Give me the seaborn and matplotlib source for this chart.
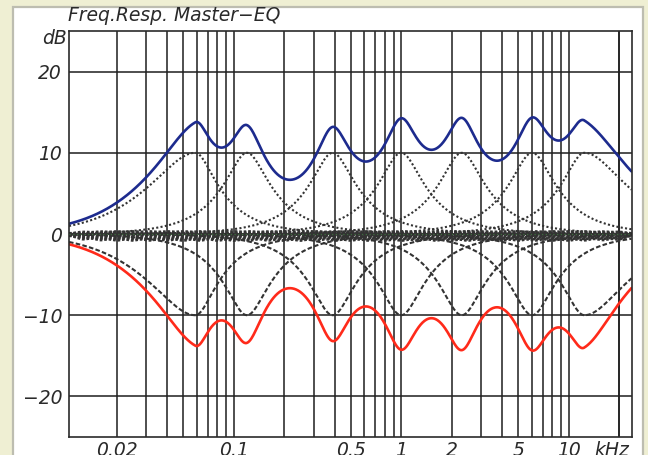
import numpy as np
import pandas as pd
import matplotlib
matplotlib.use("Agg")
import matplotlib.pyplot as plt
from matplotlib.patches import Rectangle
import seaborn as sns

# single EQ bands (dotted): centre kHz, gain dB, Q below / above centre
band_freq = [0.059, 0.12, 0.39, 1.0, 2.3, 6.05, 12.4]
band_gain = [10, 10, 10, 10, 10, 10, 10]
band_q_low = [0.6, 1.2, 1.2, 1.2, 1.2, 1.2, 1.2]
band_q_high = [1.25, 1.2, 1.2, 1.2, 1.2, 1.2, 0.65]

# settings that give the summed response (blue = all up, red = all down)
total_gain = [11.7, 10.4, 10.8, 11.0, 11.0, 10.6, 11.6]
total_q_low = [0.6, 1.5, 1.4, 1.4, 1.4, 1.4, 1.4]
total_q_high_up = [1.5, 1.4, 1.4, 1.4, 1.4, 1.4, 0.55]
total_q_high_dn = [1.5, 1.4, 1.4, 1.4, 1.4, 1.4, 0.68]

# third-octave trims that make up the thick trace round 0 dB
trim_freq = [0.0125, 0.016, 0.02, 0.025, 0.0315, 0.04, 0.05, 0.063, 0.08,
             0.1, 0.125, 0.16, 0.2, 0.25, 0.315, 0.4, 0.5, 0.63, 0.8,
             1.0, 1.25, 1.6, 2.0, 2.5, 3.15, 4.0, 5.0, 6.3, 8.0,
             10.0, 12.5, 16.0, 20.0]
trim_gain = [0.2, 0.1, 0.0, -0.1, -0.2, -0.3, -0.4, -0.5]
trim_q = 4.32

x_labels = {0.02: "0.02", 0.1: "0.1", 0.5: "0.5", 1.0: "1", 2.0: "2", 5.0: "5", 10.0: "10"}
y_ticks = [-20, -10, 0, 10, 20]

f_lo, f_hi = 0.0104, 23.7
freq = np.geomspace(f_lo, f_hi, 900)


def peak_db(f, fc, gain, q_lo, q_hi):
    w = f / fc
    q = np.where(w < 1, q_lo, q_hi)
    A = 10 ** (abs(gain) / 40)
    a = (1 - w**2) ** 2
    num = a + (w * A / q) ** 2
    den = a + (w / (A * q)) ** 2
    return np.sign(gain) * 10 * np.log10(num / den)


curves = []
for j, g in enumerate(trim_gain):
    db = sum(peak_db(freq, fc, g, trim_q, trim_q) for fc in trim_freq)
    curves.append(pd.DataFrame({"f": freq, "dB": db, "curve": f"trim{j}", "kind": "trim"}))
for i in range(len(band_freq)):
    for sgn, name in [(1, "boost"), (-1, "cut")]:
        db = peak_db(freq, band_freq[i], sgn * band_gain[i], band_q_low[i], band_q_high[i])
        curves.append(pd.DataFrame({"f": freq, "dB": db, "curve": f"{name}{i}", "kind": name}))
df = pd.concat(curves, ignore_index=True)

tot_up = sum(peak_db(freq, band_freq[i], total_gain[i], total_q_low[i], total_q_high_up[i])
             for i in range(len(band_freq)))
tot_dn = sum(peak_db(freq, band_freq[i], -total_gain[i], total_q_low[i], total_q_high_dn[i])
             for i in range(len(band_freq)))

sns.set_style("white")
plt.rcParams["font.family"] = ["DejaVu Sans"]

fig = plt.figure(figsize=(6.48, 4.55), dpi=100)
fig.patch.set_facecolor("#efefd3")
fig.add_artist(Rectangle((12.5 / 648, -0.02), (643 - 12.5) / 648, (455 - 7) / 455 + 0.02,
                         transform=fig.transFigure, facecolor="white",
                         edgecolor="#bdbdb0", lw=1.6, zorder=0))

ax = fig.add_axes([69 / 648, 1 - 437 / 455, (631.5 - 69) / 648, (437 - 31) / 455])
ax.set_facecolor("white")
ax.set_xscale("log")

# grid: every 1..9 step of each decade, every 10 dB
grid_x = [m * 10.0**e for e in range(-2, 2) for m in range(1, 10)] + [20.0]
grid_x = [v for v in grid_x if f_lo < v < f_hi]
ax.set_xticks(grid_x)
ax.set_xticklabels([x_labels.get(round(v, 3), "") for v in grid_x])
ax.xaxis.set_minor_locator(matplotlib.ticker.NullLocator())
ax.set_yticks(y_ticks)
ax.set_yticklabels([str(v).replace("-", "\u2212") for v in y_ticks])
ax.grid(True, color="#1e1e1e", lw=1.1)
ax.set_axisbelow(True)

for name, sub in df.groupby("curve", sort=False):
    kind = sub["kind"].iloc[0]
    if kind == "boost":
        ls, lw = (0, (1, 1.1)), 1.5
    elif kind == "cut":
        ls, lw = (0, (2.2, 1.1)), 1.5
    else:
        ls, lw = (0, (1, 0.7)), 1.9
    sns.lineplot(data=sub, x="f", y="dB", ax=ax, color="#333333", lw=lw,
                 linestyle=ls, sort=False, estimator=None, legend=False)
ax.axhline(0, color="#3d6b3d", lw=0.9, ls=(0, (1, 2)), zorder=3)

sns.lineplot(x=freq, y=tot_up, ax=ax, color="#1d2b8e", lw=1.9, sort=False, estimator=None)
sns.lineplot(x=freq, y=tot_dn, ax=ax, color="#ff2a1a", lw=1.9, sort=False, estimator=None)

ax.set_xlim(f_lo, f_hi)
ax.set_ylim(-25, 25)
ax.set_xlabel("")
ax.set_ylabel("")
for s in ax.spines.values():
    s.set_color("#2a2a2a")
    s.set_linewidth(1.2)

fs = 13.5
tfont = dict(fontsize=fs, style="italic", color="#2a2a2a")
ax.tick_params(length=0, labelsize=fs, labelcolor="#2a2a2a")
ax.tick_params(axis="x", pad=3)
ax.tick_params(axis="y", pad=5)
for lab in ax.get_xticklabels() + ax.get_yticklabels():
    lab.set_style("italic")

fig.text(612 / 648, 1 - 441 / 455, "kHz", ha="center", va="top", **tfont)
fig.text(67 / 648, 1 - 39 / 455, "dB", ha="right", va="center", **tfont)
fig.text(68 / 648, 1 - 15.5 / 455, "Freq.Resp. Master\u2212EQ", ha="left", va="center", **tfont)

fig.savefig("out.png", dpi=100, facecolor=fig.get_facecolor())
